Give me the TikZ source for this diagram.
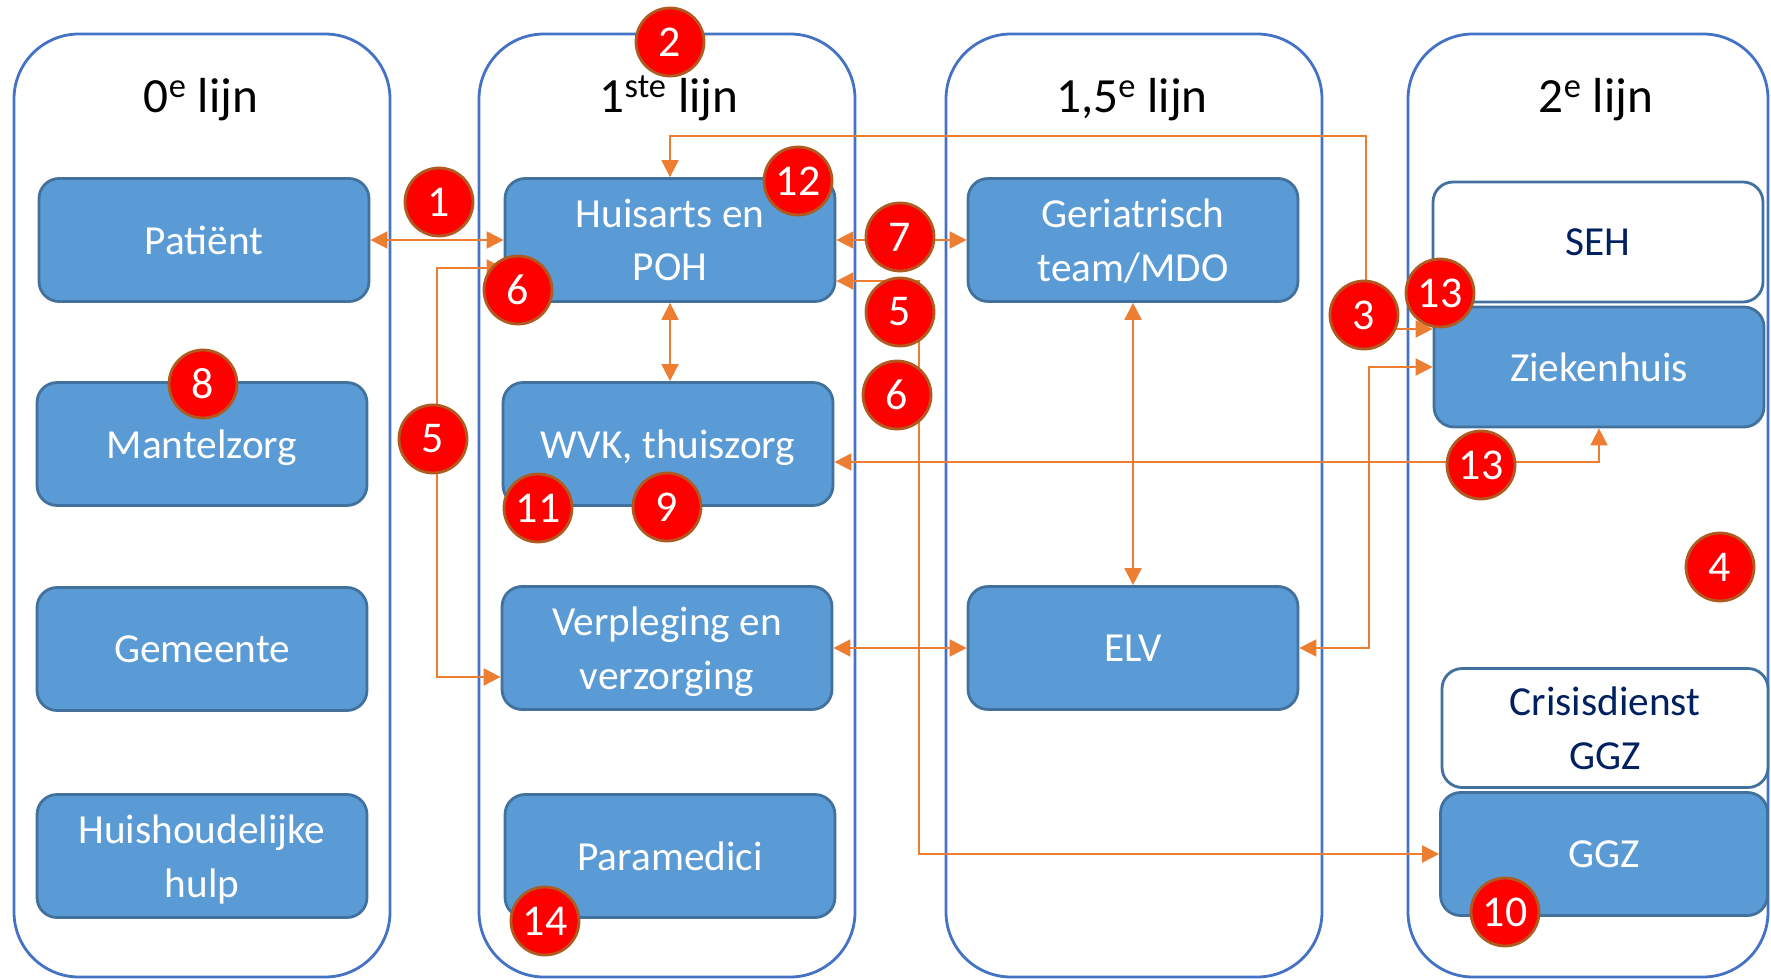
\documentclass[tikz,border=0pt]{standalone}
\usepackage{fontspec}
\setmainfont{Carlito}
\usetikzlibrary{arrows.meta}
\definecolor{kolomblauw}{HTML}{4472C4}
\definecolor{blokblauw}{HTML}{5B9BD5}
\definecolor{randblauw}{HTML}{41719C}
\definecolor{lijnoranje}{HTML}{ED7D31}
\definecolor{randbruin}{HTML}{B05A1F}
\definecolor{donkerblauw}{HTML}{002060}
\tikzset{
  kolom/.style = {draw = kolomblauw, line width = 1.6pt, rounded corners = 1.3cm},
  titel/.style = {anchor = base, font = \fontsize{28}{32}\selectfont},
  blok/.style = {draw = randblauw, fill = blokblauw, line width = 1.6pt, rounded corners = 0.4cm,
    minimum width = 6.6cm, minimum height = 2.46cm, text = white, align = center, text depth = 0pt,
    font = \fontsize{23.5}{30.5}\selectfont},
  witblok/.style = {blok, fill = white, text = donkerblauw, minimum height = 2.4cm},
  nummer/.style = {circle, draw = randbruin, fill = red, line width = 1.6pt, minimum size = 1.36cm,
    inner sep = 0pt, text = white, font = \fontsize{25}{27}\selectfont},
  pijl/.style = {draw = lijnoranje, line width = 1.1pt,
    {Triangle[length = 0.34cm, width = 0.34cm]}-{Triangle[length = 0.34cm, width = 0.34cm]}}
}
\begin{document}
\begin{tikzpicture}[x = 0.02cm, y = -0.02cm]
\useasboundingbox (0, 0) rectangle (1771, 979);
% kolommen
\draw[kolom] (14, 34) rectangle (390, 977);
\draw[kolom] (479, 34) rectangle (855, 977);
\draw[kolom] (946, 34) rectangle (1322, 977);
\draw[kolom] (1408, 34) rectangle (1768, 977);
\node[titel] (t0) at (201, 113) {0\textsuperscript{e} lijn};
\node[titel] (t1) at (669, 113) {1\textsuperscript{ste} lijn};
\node[titel] (t15) at (1132, 113) {1,5\textsuperscript{e} lijn};
\node[titel] (t2) at (1596, 113) {2\textsuperscript{e} lijn};
% 0e lijn
\node[blok] (pat) at (204, 240) {Patiënt};
\node[blok] (mz) at (202, 444) {Mantelzorg};
\node[blok] (gem) at (202, 649) {Gemeente};
\node[blok] (hh) at (202, 856) {Huishoudelijke\\hulp};
% 1e lijn
\node[blok] (ha) at (670, 240) {Huisarts en\\POH};
\node[blok] (wvk) at (668, 444) {WVK, thuiszorg};
\node[blok] (verp) at (667, 648) {Verpleging en\\verzorging};
\node[blok] (para) at (670, 856) {Paramedici};
% 1,5e lijn
\node[blok] (ger) at (1133, 240) {Geriatrisch\\team/MDO};
\node[blok] (elv) at (1133, 648) {ELV};
% 2e lijn
\node[witblok] (seh) at (1598, 242) {SEH};
\node[blok, minimum height = 2.4cm] (zk) at (1599, 367) {Ziekenhuis};
\node[witblok, minimum width = 6.52cm, minimum height = 2.38cm] (cris) at (1605, 728) {Crisisdienst\\GGZ};
\node[blok, minimum width = 6.54cm] (ggz) at (1604, 854) {GGZ};
% verbindingen
\coordinate (boven) at (1366, 136);
\draw[pijl] (pat.east) -- (ha.west);
\draw[pijl] ([yshift = -0.56cm]ha.west) -- ++(-67, 0) |- ([yshift = -0.58cm]verp.west);
\draw[pijl] (ha.south) -- (ha.south |- wvk.north);
\draw[pijl] (ha.north) |- (boven) |- ([yshift = 0.76cm]zk.west);
\draw[pijl] (ha.east) -- (ger.west);
\draw[pijl] ([yshift = -0.82cm]ha.east) -- ++(83, 0) |- (ggz.west);
\draw[pijl] (ger.south) -- (elv.north);
\draw[pijl] (verp.east) -- (verp.east -| elv.west);
\draw[pijl] (elv.east) -- ++(70, 0) |- (zk.west);
\draw[pijl] ([yshift = -0.36cm]wvk.east) -| (zk.south);
% nummers
\node[nummer] (n1) at (439, 202) {1};
\node[nummer] (n2) at (670, 42) {2};
\node[nummer] (n3) at (1364, 315) {3};
\node[nummer] (n4) at (1720, 567) {4};
\node[nummer] (n5a) at (433, 439) {5};
\node[nummer] (n5b) at (900, 312) {5};
\node[nummer] (n6a) at (518, 290) {6};
\node[nummer] (n6b) at (897, 395) {6};
\node[nummer] (n7) at (900, 237) {7};
\node[nummer] (n8) at (203, 384) {8};
\node[nummer] (n9) at (667, 507) {9};
\node[nummer] (n10) at (1505, 912) {10};
\node[nummer] (n11) at (538, 508) {11};
\node[nummer] (n12) at (798, 181) {12};
\node[nummer] (n13a) at (1440, 293) {13};
\node[nummer] (n13b) at (1481, 465) {13};
\node[nummer] (n14) at (545, 921) {14};
\end{tikzpicture}
\end{document}
